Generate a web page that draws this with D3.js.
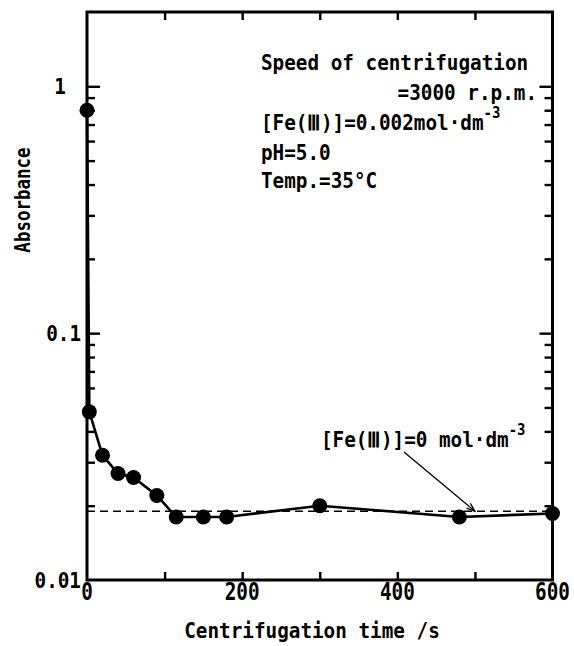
<!DOCTYPE html>
<html>
<head>
<meta charset="utf-8">
<script src="https://cdn.jsdelivr.net/npm/d3@7/dist/d3.min.js"></script>
<style>
  html, body { margin: 0; padding: 0; background: #fff; }
  svg { display: block; }
  text { font-family: "DejaVu Sans Mono", monospace; font-weight: bold; fill: #000; }
</style>
</head>
<body>
<svg id="chart" width="574" height="646"></svg>
<script>
// Centrifugation time (s) and measured absorbance
const times = [0, 3, 20, 40, 60, 90, 115, 150, 180, 300, 480, 600];
const absorbance = [0.8, 0.048, 0.032, 0.027, 0.026, 0.022, 0.018, 0.018, 0.018, 0.020, 0.018, 0.0186];
// Absorbance of the blank ([Fe(III)] = 0)
const blankAbsorbance = 0.019;

const xTicks = [0, 100, 200, 300, 400, 500, 600];
const xTickLabels = [0, 200, 400, 600];
const yMajorTicks = [0.01, 0.1, 1];
const yTickLabels = ["0.01", "0.1", "1"];
const yMinorMultipliers = [2, 3, 4, 5, 6, 7, 8, 9];

const conditionLines = [
  "Speed of centrifugation",
  "=3000 r.p.m.",
  "[Fe(\u2162)]=0.002mol\u00b7dm",
  "pH=5.0",
  "Temp.=35\u00b0C"
];
const blankLabel = "[Fe(\u2162)]=0 mol\u00b7dm";
const xTitle = "Centrifugation time /s";
const yTitle = "Absorbance";

const svg = d3.select("#chart");
const plotLeft = 87, plotRight = 552.5, plotTop = 12, plotBottom = 580;

const x = d3.scaleLinear().domain([0, 600]).range([plotLeft, plotRight]);
const y = d3.scaleLog().domain([0.01, 2]).range([plotBottom, plotTop]);

const yMinorTicks = [];
[0.01, 0.1].forEach(dec => yMinorMultipliers.forEach(m => yMinorTicks.push(+(m * dec).toPrecision(3))));

// Text helper: glyphs are slightly stretched vertically
function label(txt, px, py, opt = {}) {
  const size = opt.size || 19.3, sy = opt.sy || 1.08, rot = opt.rotate || 0;
  return svg.append("text")
    .attr("transform", `translate(${px},${py}) rotate(${rot}) scale(1,${sy})`)
    .attr("text-anchor", opt.anchor || "start")
    .style("font-size", size + "px")
    .text(txt);
}
function superscript(t, txt) {
  t.append("tspan").attr("dy", -11).style("font-size", "14px").text(txt);
}

// Plot frame
svg.append("rect")
  .attr("x", plotLeft).attr("y", plotTop)
  .attr("width", plotRight - plotLeft).attr("height", plotBottom - plotTop)
  .attr("fill", "none").attr("stroke", "#000").attr("stroke-width", 3);

// Inward ticks on all four sides via d3 axes
const tickStyle = g => {
  g.select(".domain").remove();
  g.selectAll(".tick line").attr("stroke", "#000").attr("stroke-width", 2.4);
  g.selectAll(".tick text").remove();
};
const innerX = xTicks.filter(v => v > 0 && v < 600);
svg.append("g").attr("transform", `translate(0,${plotBottom})`)
  .call(d3.axisBottom(x).tickValues(innerX).tickSizeInner(-8).tickSizeOuter(0)).call(tickStyle);
svg.append("g").attr("transform", `translate(0,${plotTop})`)
  .call(d3.axisTop(x).tickValues(innerX).tickSizeInner(-8).tickSizeOuter(0)).call(tickStyle);
[[plotLeft, d3.axisLeft, -1], [plotRight, d3.axisRight, 1]].forEach(([px, axisFn, s]) => {
  svg.append("g").attr("transform", `translate(${px},0)`)
    .call(axisFn(y).tickValues(yMinorTicks).tickSizeOuter(0)).call(tickStyle)
    .selectAll(".tick line").attr("x2", -8 * s);
  svg.append("g").attr("transform", `translate(${px},0)`)
    .call(axisFn(y).tickValues(yMajorTicks.filter(v => v > 0.01)).tickSizeOuter(0)).call(tickStyle)
    .selectAll(".tick line").attr("x2", -13 * s);
});

// Tick labels
xTickLabels.forEach(v => label(String(v), x(v), 600, { anchor: "middle", sy: 1.25 }));
yMajorTicks.forEach((v, i) => {
  const txt = yTickLabels[i];
  const px = txt === "1" ? 66 : 81;
  label(txt, px, y(v) + 8, { anchor: "end", sy: 1.12 });
});

// Axis titles
label(xTitle, 312, 638, { anchor: "middle", sy: 1.08 });
label(yTitle, 30, 200, { anchor: "middle", rotate: -90, size: 17.5, sy: 1.17 });

// Blank level (dashed)
svg.append("line")
  .attr("x1", x(0)).attr("x2", x(600))
  .attr("y1", y(blankAbsorbance)).attr("y2", y(blankAbsorbance))
  .attr("stroke", "#000").attr("stroke-width", 1.4).attr("stroke-dasharray", "8,5");

// Data line and markers
const pts = times.map((t, i) => [t, absorbance[i]]);
svg.append("path")
  .datum(pts)
  .attr("d", d3.line().x(d => x(d[0])).y(d => y(d[1])))
  .attr("fill", "none").attr("stroke", "#000").attr("stroke-width", 2.6);
svg.selectAll("circle.pt").data(pts).join("circle")
  .attr("class", "pt")
  .attr("cx", d => x(d[0])).attr("cy", d => y(d[1])).attr("r", 7.5)
  .attr("fill", "#000");

// Experimental conditions
label(conditionLines[0], 261, 70);
label(conditionLines[1], 537, 100, { anchor: "end" });
superscript(label(conditionLines[2], 261, 130), "-3");
label(conditionLines[3], 261, 160);
label(conditionLines[4], 261, 188);

// Blank annotation with arrow pointing at the dashed line
superscript(label(blankLabel, 321, 447), "-3");
const ax = x(500), ay = y(blankAbsorbance);
const sx = 404, sy0 = 452;
svg.append("line").attr("x1", sx).attr("y1", sy0).attr("x2", ax).attr("y2", ay)
  .attr("stroke", "#000").attr("stroke-width", 1.3);
const ang = Math.atan2(ay - sy0, ax - sx);
const ah = 9, aw = 0.35;
svg.append("path")
  .attr("d", `M${ax - ah * Math.cos(ang - aw)},${ay - ah * Math.sin(ang - aw)} L${ax},${ay} L${ax - ah * Math.cos(ang + aw)},${ay - ah * Math.sin(ang + aw)}`)
  .attr("fill", "none").attr("stroke", "#000").attr("stroke-width", 1.3);
</script>
</body>
</html>
